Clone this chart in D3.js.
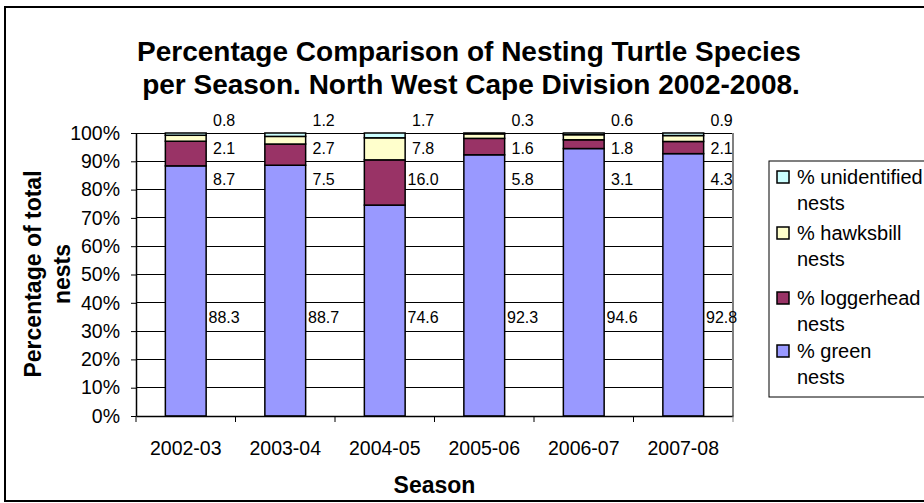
<!DOCTYPE html>
<html><head><meta charset="utf-8">
<script src="https://cdn.jsdelivr.net/npm/d3@7"></script>
<style>
html,body{margin:0;padding:0;background:#fff;}
text{font-family:"Liberation Sans",Arial,sans-serif;}
</style></head>
<body>
<svg id="chart" width="924" height="503"></svg>
<script>
const seasons = ["2002-03","2003-04","2004-05","2005-06","2006-07","2007-08"];
const green = [88.3, 88.7, 74.6, 92.3, 94.6, 92.8];
const loggerhead = [8.7, 7.5, 16.0, 5.8, 3.1, 4.3];
const hawksbill = [2.1, 2.7, 7.8, 1.6, 1.8, 2.1];
const unidentified = [0.8, 1.2, 1.7, 0.3, 0.6, 0.9];
const yTicks = [0,10,20,30,40,50,60,70,80,90,100];
const seriesKeys = ["green","loggerhead","hawksbill","unidentified"];
const seriesNames = ["% green nests","% loggerhead nests","% hawksbill nests","% unidentified nests"];
const seriesColors = ["#9999FF","#993366","#FFFFCC","#CCFFFF"];

const rows = seasons.map((s,i)=>({season:s, green:green[i], loggerhead:loggerhead[i], hawksbill:hawksbill[i], unidentified:unidentified[i]}));

const svg = d3.select("#chart");
const FONT = "Liberation Sans, Arial, sans-serif";
// outer frame
svg.append("rect").attr("x",5).attr("y",7).attr("width",940).attr("height",494)
  .attr("fill","#fff").attr("stroke","#000").attr("stroke-width",2);

const L=136, R=733, T=133, B=416;
const x = d3.scaleBand().domain(seasons).range([L,R]).paddingInner(0.59).paddingOuter(0.295);
const y = d3.scaleLinear().domain([0,100]).range([B,T]);

// gridlines
svg.append("g").selectAll("line").data(yTicks.slice(1)).join("line")
  .attr("x1",L).attr("x2",R).attr("y1",d=>y(d)).attr("y2",d=>y(d))
  .attr("stroke","#000").attr("stroke-width",1).attr("shape-rendering","crispEdges");
// plot border right
svg.append("line").attr("x1",R).attr("x2",R).attr("y1",T).attr("y2",B)
  .attr("stroke","#808080").attr("stroke-width",1.5).attr("shape-rendering","crispEdges");

// stacked bars
const stack = d3.stack().keys(seriesKeys).offset(d3.stackOffsetExpand);
const layers = stack(rows);
const yp = d3.scaleLinear().domain([0,1]).range([B,T]);
svg.append("g").selectAll("g").data(layers).join("g")
  .attr("fill",(d,i)=>seriesColors[i])
  .selectAll("rect").data(d=>d).join("rect")
  .attr("x",d=>x(d.data.season)).attr("width",x.bandwidth())
  .attr("y",d=>yp(d[1])).attr("height",d=>yp(d[0])-yp(d[1]))
  .attr("stroke","#000").attr("stroke-width",1.5);

// y axis
const yAxis = d3.axisLeft(y).tickValues(yTicks).tickFormat(d=>d+"%").tickSize(5).tickSizeOuter(0);
const gy = svg.append("g").attr("transform",`translate(${L},0)`).call(yAxis);
gy.select(".domain").attr("stroke","#000").attr("stroke-width",1.5);
gy.selectAll(".tick line").attr("stroke","#000");
gy.selectAll(".tick text").attr("font-size",19.5).attr("fill","#000").attr("x",-16)
  .attr("font-family",FONT);

// x axis
const xAxis = d3.axisBottom(x).tickSize(0).tickSizeOuter(0);
const gx = svg.append("g").attr("transform",`translate(0,${B})`).call(xAxis);
gx.select(".domain").attr("stroke","#000").attr("stroke-width",1.5);
gx.selectAll(".tick text").attr("font-size",19.5).attr("fill","#000").attr("dy",0).attr("y",39)
  .attr("font-family",FONT);
// boundary ticks
const step = x.step();
const bounds = d3.range(seasons.length+1).map(i=>L+i*step);
svg.append("g").selectAll("line").data(bounds).join("line")
  .attr("x1",d=>d).attr("x2",d=>d).attr("y1",B).attr("y2",B+6)
  .attr("stroke",(d,i)=>i===seasons.length?"#808080":"#000").attr("stroke-width",1);

// value labels
const labelLevels = [35, 83.5, 94.5, 104.5];
const seriesArrays = [green, loggerhead, hawksbill, unidentified];
seriesArrays.forEach((arr,si)=>{
  svg.append("g").selectAll("text").data(arr).join("text")
    .attr("x",(d,i)=>x(seasons[i])+x.bandwidth()+18)
    .attr("y",y(labelLevels[si])).attr("dy","0.35em")
    .attr("text-anchor","middle")
    .attr("font-size",16).attr("fill","#000")
    .text(d=>d.toFixed(1));
});

// titles
const title = svg.append("text").attr("text-anchor","middle")
  .attr("font-size",28).attr("font-weight","bold").attr("fill","#000");
title.append("tspan").attr("x",469).attr("y",61).text("Percentage Comparison of Nesting Turtle Species");
title.append("tspan").attr("x",471).attr("y",94).text("per Season. North West Cape Division 2002-2008.");

svg.append("text").attr("x",(L+R)/2).attr("y",493).attr("text-anchor","middle")
  .attr("font-size",23).attr("font-weight","bold").text("Season");

const yt = svg.append("text").attr("transform","translate(0,274) rotate(-90)")
  .attr("text-anchor","middle").attr("font-size",23).attr("font-weight","bold");
yt.append("tspan").attr("x",0).attr("y",41).text("Percentage of total");
yt.append("tspan").attr("x",0).attr("y",70).text("nests");

// legend
const lg = svg.append("g");
lg.append("rect").attr("x",769).attr("y",161).attr("width",200).attr("height",236)
  .attr("fill","#fff").attr("stroke","#000").attr("stroke-width",1);
const legendOrder = [3,2,1,0];
const legendY = [177,233,298,351];
legendOrder.forEach((si,k)=>{
  const yy = legendY[k];
  lg.append("rect").attr("x",777).attr("y",yy-6).attr("width",12).attr("height",12)
    .attr("fill",seriesColors[si]).attr("stroke","#000").attr("stroke-width",1.5);
  const parts = seriesNames[si].split(" nests");
  lg.append("text").attr("x",797).attr("y",yy).attr("dy","0.35em").attr("font-size",20).text(parts[0]);
  lg.append("text").attr("x",797).attr("y",yy+26).attr("dy","0.35em").attr("font-size",20).text("nests");
});
</script>
</body></html>
